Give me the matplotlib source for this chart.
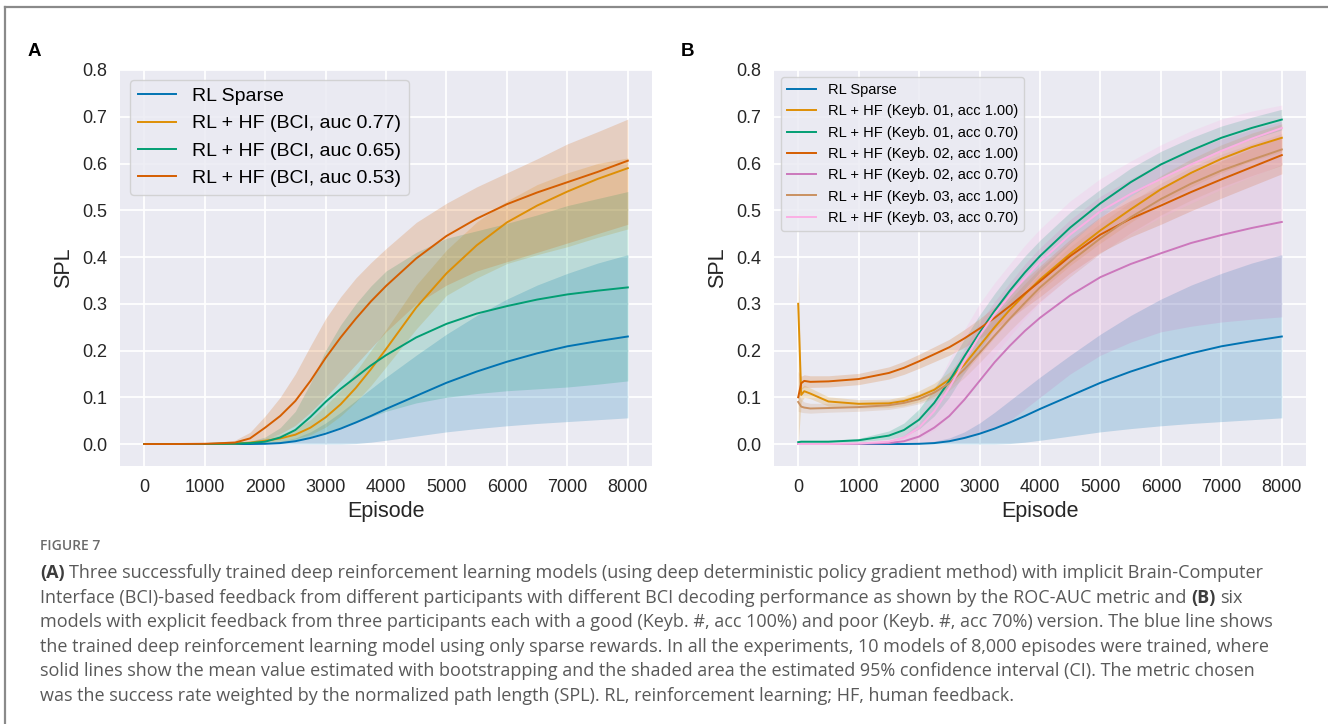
import numpy as np
import matplotlib
matplotlib.use("Agg")
import matplotlib.pyplot as plt
from matplotlib.lines import Line2D

W, H = 1328, 724

episodes = [0, 50, 100, 200, 500, 1000, 1500, 1750, 2000, 2250, 2500, 2750, 3000,
            3250, 3500, 3750, 4000, 4500, 5000, 5500, 6000, 6500, 7000, 7500, 8000]

# RL Sparse (same run in both panels)
sparse_mean = [0, 0, 0, 0, 0, 0, 0, 0, 0.0005, 0.002, 0.006, 0.013, 0.022, 0.033, 0.046,
               0.06, 0.075, 0.103, 0.131, 0.155, 0.176, 0.194, 0.209, 0.22, 0.23]
sparse_lo = [0, 0, 0, 0, 0, 0, 0, 0, 0, 0, 0, 0, 0, 0, 0.001, 0.004, 0.008, 0.017, 0.026,
             0.033, 0.039, 0.044, 0.048, 0.052, 0.056]
sparse_hi = [0, 0, 0, 0, 0, 0, 0, 0, 0.002, 0.006, 0.013, 0.026, 0.045, 0.068, 0.093,
             0.118, 0.143, 0.19, 0.235, 0.275, 0.31, 0.34, 0.365, 0.387, 0.405]

# Panel A: BCI feedback
bci77_mean = [0, 0, 0, 0, 0, 0, 0.001, 0.003, 0.007, 0.012, 0.02, 0.035, 0.057, 0.085, 0.12,
              0.16, 0.203, 0.292, 0.365, 0.425, 0.474, 0.51, 0.54, 0.567, 0.59]
bci77_lo = [0, 0, 0, 0, 0, 0, 0, 0.001, 0.003, 0.006, 0.011, 0.02, 0.036, 0.06, 0.09,
            0.125, 0.165, 0.246, 0.318, 0.355, 0.386, 0.405, 0.422, 0.442, 0.46]
bci77_hi = [0, 0, 0, 0, 0, 0, 0.002, 0.005, 0.012, 0.02, 0.033, 0.052, 0.082, 0.115, 0.155,
            0.2, 0.245, 0.34, 0.415, 0.475, 0.52, 0.555, 0.58, 0.6, 0.612]

bci65_mean = [0, 0, 0, 0, 0, 0, 0.001, 0.002, 0.005, 0.014, 0.03, 0.058, 0.09, 0.118, 0.143,
              0.168, 0.19, 0.228, 0.257, 0.279, 0.295, 0.309, 0.32, 0.328, 0.335]
bci65_lo = [0, 0, 0, 0, 0, 0, 0, 0, 0.001, 0.003, 0.008, 0.016, 0.026, 0.036, 0.046,
            0.058, 0.07, 0.088, 0.1, 0.108, 0.114, 0.118, 0.122, 0.128, 0.135]
bci65_hi = [0, 0, 0, 0, 0, 0, 0.002, 0.006, 0.015, 0.035, 0.07, 0.13, 0.2, 0.255, 0.3,
            0.338, 0.37, 0.41, 0.44, 0.456, 0.472, 0.49, 0.51, 0.525, 0.54]

bci53_mean = [0, 0, 0, 0, 0, 0.0005, 0.003, 0.012, 0.035, 0.06, 0.092, 0.135, 0.184, 0.228,
              0.268, 0.305, 0.338, 0.397, 0.445, 0.482, 0.513, 0.538, 0.56, 0.582, 0.606]
bci53_lo = [0, 0, 0, 0, 0, 0, 0.0005, 0.003, 0.01, 0.022, 0.04, 0.068, 0.1, 0.135, 0.17,
            0.205, 0.24, 0.3, 0.34, 0.37, 0.39, 0.41, 0.43, 0.45, 0.47]
bci53_hi = [0, 0, 0, 0, 0, 0.001, 0.008, 0.025, 0.06, 0.1, 0.15, 0.21, 0.268, 0.315, 0.355,
            0.388, 0.418, 0.474, 0.515, 0.55, 0.58, 0.61, 0.642, 0.668, 0.695]

# Panel B: keyboard feedback
k1good_mean = [0.3, 0.105, 0.113, 0.108, 0.091, 0.086, 0.087, 0.092, 0.102, 0.116, 0.138, 0.17,
               0.21, 0.25, 0.287, 0.32, 0.352, 0.407, 0.457, 0.502, 0.545, 0.58, 0.61, 0.635, 0.655]
k1good_lo = [0.0, 0.09, 0.1, 0.097, 0.081, 0.077, 0.078, 0.082, 0.09, 0.102, 0.122, 0.152,
             0.19, 0.228, 0.265, 0.297, 0.328, 0.382, 0.43, 0.474, 0.516, 0.55, 0.58, 0.605, 0.625]
k1good_hi = [0.38, 0.12, 0.126, 0.12, 0.101, 0.095, 0.096, 0.102, 0.114, 0.13, 0.154, 0.188,
             0.23, 0.272, 0.309, 0.343, 0.376, 0.432, 0.484, 0.53, 0.574, 0.61, 0.64, 0.665, 0.685]

k1poor_mean = [0.004, 0.005, 0.005, 0.005, 0.005, 0.008, 0.018, 0.03, 0.052, 0.088, 0.135, 0.188,
               0.238, 0.285, 0.328, 0.367, 0.402, 0.463, 0.515, 0.56, 0.598, 0.628, 0.655, 0.676, 0.694]
k1poor_lo = [0.002, 0.003, 0.003, 0.003, 0.003, 0.005, 0.01, 0.017, 0.032, 0.06, 0.1, 0.152,
             0.2, 0.248, 0.292, 0.332, 0.368, 0.43, 0.485, 0.53, 0.57, 0.601, 0.63, 0.652, 0.672]
k1poor_hi = [0.006, 0.007, 0.007, 0.007, 0.008, 0.012, 0.028, 0.045, 0.075, 0.118, 0.17, 0.225,
             0.276, 0.322, 0.364, 0.402, 0.436, 0.496, 0.545, 0.59, 0.626, 0.655, 0.68, 0.699, 0.716]

k2good_mean = [0.1, 0.13, 0.135, 0.133, 0.134, 0.139, 0.152, 0.163, 0.177, 0.192, 0.207, 0.226,
               0.247, 0.27, 0.295, 0.322, 0.348, 0.402, 0.448, 0.482, 0.51, 0.539, 0.566, 0.592, 0.618]
k2good_lo = [0.09, 0.117, 0.122, 0.121, 0.122, 0.127, 0.139, 0.149, 0.162, 0.176, 0.19, 0.207,
             0.226, 0.246, 0.268, 0.292, 0.315, 0.366, 0.41, 0.443, 0.47, 0.499, 0.526, 0.552, 0.578]
k2good_hi = [0.155, 0.145, 0.148, 0.146, 0.146, 0.151, 0.165, 0.177, 0.192, 0.208, 0.224, 0.245,
             0.268, 0.294, 0.322, 0.352, 0.381, 0.438, 0.486, 0.521, 0.55, 0.579, 0.606, 0.632, 0.658]

k2poor_mean = [0, 0, 0, 0, 0, 0.0005, 0.002, 0.006, 0.016, 0.035, 0.06, 0.095, 0.135, 0.175,
               0.21, 0.242, 0.27, 0.318, 0.357, 0.385, 0.408, 0.43, 0.447, 0.462, 0.475]
k2poor_lo = [0, 0, 0, 0, 0, 0, 0, 0, 0.001, 0.003, 0.006, 0.012, 0.022, 0.035, 0.05,
             0.075, 0.1, 0.15, 0.19, 0.218, 0.24, 0.252, 0.261, 0.267, 0.272]
k2poor_hi = [0, 0, 0, 0, 0, 0.001, 0.006, 0.018, 0.045, 0.09, 0.145, 0.205, 0.26, 0.305, 0.345,
             0.385, 0.42, 0.48, 0.53, 0.567, 0.6, 0.628, 0.652, 0.672, 0.69]

k3good_mean = [0.09, 0.08, 0.078, 0.076, 0.077, 0.079, 0.083, 0.088, 0.096, 0.11, 0.13, 0.16,
               0.195, 0.232, 0.268, 0.302, 0.335, 0.39, 0.44, 0.485, 0.524, 0.557, 0.585, 0.608, 0.63]
k3good_lo = [0.07, 0.068, 0.067, 0.066, 0.068, 0.07, 0.074, 0.079, 0.086, 0.098, 0.115, 0.142,
             0.174, 0.208, 0.242, 0.274, 0.305, 0.358, 0.408, 0.452, 0.49, 0.522, 0.55, 0.574, 0.596]
k3good_hi = [0.11, 0.095, 0.09, 0.087, 0.087, 0.089, 0.093, 0.098, 0.107, 0.122, 0.145, 0.178,
             0.216, 0.256, 0.294, 0.33, 0.365, 0.422, 0.472, 0.518, 0.558, 0.592, 0.62, 0.642, 0.664]

k3poor_mean = [0, 0, 0, 0, 0, 0.001, 0.005, 0.014, 0.035, 0.07, 0.12, 0.178, 0.232, 0.278,
               0.318, 0.355, 0.39, 0.448, 0.498, 0.535, 0.567, 0.598, 0.627, 0.653, 0.676]
k3poor_lo = [0, 0, 0, 0, 0, 0, 0.001, 0.004, 0.012, 0.03, 0.06, 0.1, 0.145, 0.19, 0.23,
             0.268, 0.302, 0.36, 0.41, 0.45, 0.485, 0.515, 0.545, 0.572, 0.598]
k3poor_hi = [0, 0, 0, 0, 0, 0.003, 0.012, 0.03, 0.065, 0.115, 0.18, 0.245, 0.3, 0.345, 0.385,
             0.425, 0.46, 0.52, 0.568, 0.605, 0.64, 0.67, 0.695, 0.712, 0.725]

labels_a = ["RL Sparse", "RL + HF (BCI, auc 0.77)", "RL + HF (BCI, auc 0.65)",
            "RL + HF (BCI, auc 0.53)"]
labels_b = ["RL Sparse", "RL + HF (Keyb. 01, acc 1.00)", "RL + HF (Keyb. 01, acc 0.70)",
            "RL + HF (Keyb. 02, acc 1.00)", "RL + HF (Keyb. 02, acc 0.70)",
            "RL + HF (Keyb. 03, acc 1.00)", "RL + HF (Keyb. 03, acc 0.70)"]

colors = ["#0173b2", "#de8f05", "#029e73", "#d55e00", "#cc78bc", "#ca9161", "#fbafe4"]

caption_lines = [
    [("(A)", True), ("Three successfully trained deep reinforcement learning models (using deep deterministic policy gradient method) with implicit Brain-Computer", False)],
    [("Interface (BCI)-based feedback from different participants with different BCI decoding performance as shown by the ROC-AUC metric and", False), ("(B)", True), ("six", False)],
    [("models with explicit feedback from three participants each with a good (Keyb. #, acc 100%) and poor (Keyb. #, acc 70%) version. The blue line shows", False)],
    [("the trained deep reinforcement learning model using only sparse rewards. In all the experiments, 10 models of 8,000 episodes were trained, where", False)],
    [("solid lines show the mean value estimated with bootstrapping and the shaded area the estimated 95% confidence interval (CI). The metric chosen", False)],
    [("was the success rate weighted by the normalized path length (SPL). RL, reinforcement learning; HF, human feedback.", False)],
]

plt.rcParams["font.family"] = ["Liberation Sans", "DejaVu Sans"]

fig = plt.figure(figsize=(W / 100, H / 100), dpi=100)
fig.patch.set_facecolor("white")

# page frame (top and left rule)
fig.add_artist(Line2D([5 / W, 5 / W], [0, 1 - 7 / H], color="#8a8a8a", lw=1.6))
fig.add_artist(Line2D([5 / W, 1], [1 - 7 / H, 1 - 7 / H], color="#8a8a8a", lw=1.6))

x = np.array(episodes)
panels = [
    (120, "A", labels_a,
     [sparse_mean, bci77_mean, bci65_mean, bci53_mean],
     [sparse_lo, bci77_lo, bci65_lo, bci53_lo],
     [sparse_hi, bci77_hi, bci65_hi, bci53_hi], 14),
    (774, "B", labels_b,
     [sparse_mean, k1good_mean, k1poor_mean, k2good_mean, k2poor_mean, k3good_mean, k3poor_mean],
     [sparse_lo, k1good_lo, k1poor_lo, k2good_lo, k2poor_lo, k3good_lo, k3poor_lo],
     [sparse_hi, k1good_hi, k1poor_hi, k2good_hi, k2poor_hi, k3good_hi, k3poor_hi], 10.5),
]

for left, letter, labels, means, los, his, leg_fs in panels:
    ax = fig.add_axes([left / W, (H - 466) / H, 532 / W, 396 / H])
    ax.set_facecolor("#eaeaf2")
    for s in ax.spines.values():
        s.set_visible(False)
    ax.grid(True, color="white", lw=1.3)
    ax.set_axisbelow(True)
    for i in range(len(labels)):
        ax.fill_between(x, los[i], his[i], color=colors[i], alpha=0.2, lw=0)
    for i in range(len(labels)):
        ax.plot(x, means[i], color=colors[i], lw=1.4, label=labels[i])
    ax.set_xlim(-400, 8400)
    ax.set_ylim(-0.047, 0.8)
    ax.set_xticks(np.arange(0, 8001, 1000))
    ax.set_yticks(np.arange(0, 0.81, 0.1))
    ax.set_yticklabels([f"{v:.1f}" for v in np.arange(0, 0.81, 0.1)])
    ax.tick_params(length=0, pad=9, labelsize=13, colors="#262626")
    ax.set_xlabel("Episode", fontsize=15.5, color="#262626", labelpad=4)
    ax.set_ylabel("SPL", fontsize=15.5, color="#262626", labelpad=6)
    leg = ax.legend(loc="upper left", fontsize=leg_fs, frameon=True, fancybox=True,
                    facecolor="#eaeaf2", edgecolor="#cccccc", framealpha=0.8)
    fig.text((left - 86) / W, 1 - 52 / H, letter, fontsize=13.5, fontweight="bold",
             ha="center", va="center")

# caption
fig.text(40 / W, 1 - 546 / H, "FIGURE 7", family="Open Sans", fontweight="semibold",
         fontsize=10, color="#6b6b6b", va="center")

renderer = fig.canvas.get_renderer()
cap_color = "#595959"
cap_font = "Open Sans"


def draw_line(y_px, runs, size, draw=True):
    xp = 40
    texts = []
    space = size * 100 / 72 * 0.26
    for k, (s, bold) in enumerate(runs):
        t = fig.text(xp / W, 1 - y_px / H, s, family=cap_font, fontsize=size,
                     fontweight="bold" if bold else "normal",
                     color="#3d3d3d" if bold else cap_color, va="center")
        bb = t.get_window_extent(renderer)
        xp += bb.width + space
        texts.append(t)
    if not draw:
        for t in texts:
            t.remove()
    return xp - space - 40


base = 10.0
w0 = draw_line(573, caption_lines[0], base, draw=False)
cap_size = base * 1228 / w0
for j, runs in enumerate(caption_lines):
    draw_line(573 + j * 24.6, runs, cap_size)

fig.savefig("out.png", dpi=100)
